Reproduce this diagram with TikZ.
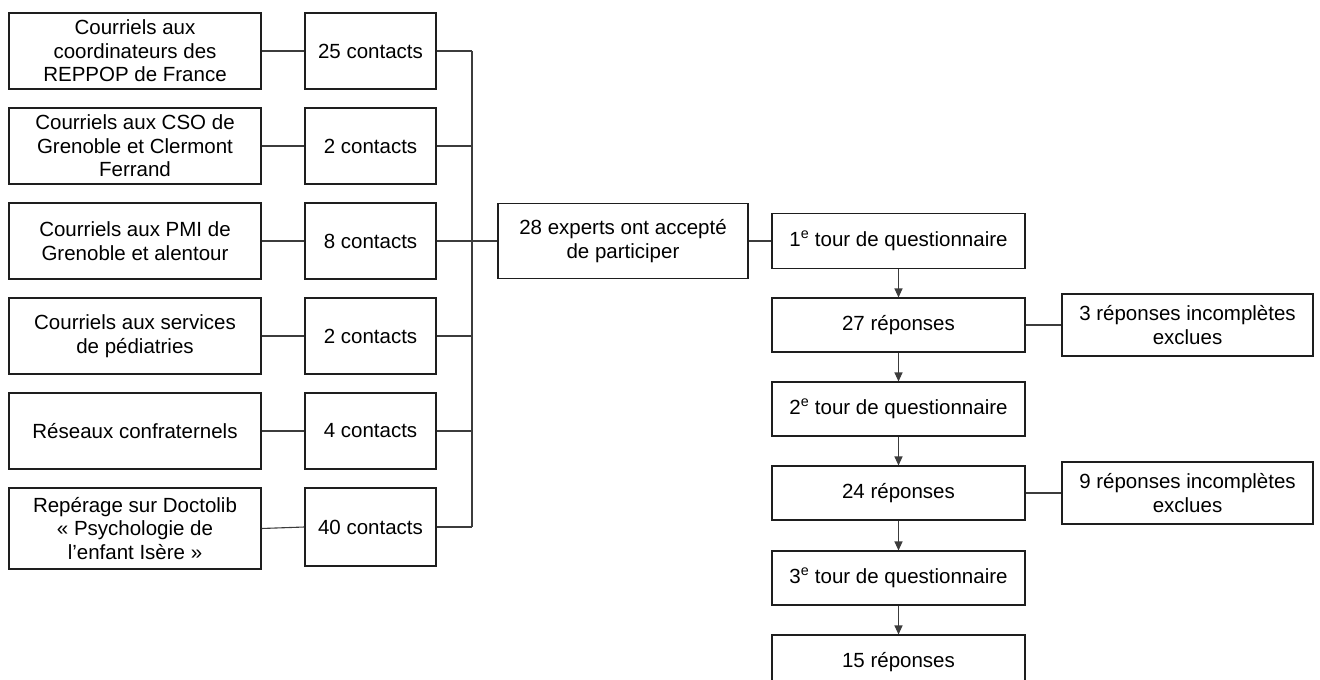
\documentclass[tikz,border=0pt]{standalone}
\usepackage{fontspec}
\setmainfont{Liberation Sans}
\usetikzlibrary{arrows.meta}
\definecolor{boxcol}{RGB}{30,30,30}
\definecolor{linecol}{RGB}{60,60,60}
\begin{document}
\begin{tikzpicture}[x=1pt,y=-1pt,
  box/.style={draw=boxcol,line width=1.1pt,align=center,inner sep=0pt,
    font=\fontsize{20.5}{23.5}\selectfont,text=black},
  lbox/.style={box,minimum width=252pt,minimum height=76pt},
  cbox/.style={box,minimum width=131pt,minimum height=76pt},
  rbox/.style={box,minimum width=253pt,minimum height=54pt},
  sbox/.style={box,minimum width=251pt,minimum height=62pt},
  conn/.style={draw=linecol,line width=1.1pt},
  arr/.style={conn,-{Triangle[length=9pt,width=8pt]}}]
\clip (0,0) rectangle (1320,680);
\fill[white] (0,0) rectangle (1320,680);
% left column
\node[lbox] (L1) at (135,51) {Courriels aux\\coordinateurs des\\REPPOP de France};
\node[lbox] (L2) at (135,146) {Courriels aux CSO de\\Grenoble et Clermont\\Ferrand};
\node[lbox] (L3) at (135,241) {Courriels aux PMI de\\Grenoble et alentour};
\node[lbox] (L4) at (135,336) {Courriels aux services\\de pédiatries};
\node[lbox] (L5) at (135,431) {Réseaux confraternels};
\node[lbox,minimum height=81pt] (L6) at (135,528.5) {Repérage sur Doctolib\\« Psychologie de\\l’enfant Isère »};
% contacts
\node[cbox] (C1) at (370.5,51) {25 contacts};
\node[cbox] (C2) at (370.5,146) {2 contacts};
\node[cbox] (C3) at (370.5,241) {8 contacts};
\node[cbox] (C4) at (370.5,336) {2 contacts};
\node[cbox] (C5) at (370.5,431) {4 contacts};
\node[cbox,minimum height=78pt] (C6) at (370.5,527) {40 contacts};
\coordinate (bus) at (472,0);
% center
\node[box,minimum width=250pt,minimum height=75pt] (M) at (623,241) {28 experts ont accepté\\de participer};
% right column
\node[rbox,minimum height=55pt] (R1) at (898.5,241) {1\textsuperscript{e} tour de questionnaire};
\node[rbox] (R2) at (898.5,325) {27 réponses};
\node[rbox] (R3) at (898.5,409) {2\textsuperscript{e} tour de questionnaire};
\node[rbox] (R4) at (898.5,493) {24 réponses};
\node[rbox] (R5) at (898.5,578) {3\textsuperscript{e} tour de questionnaire};
\node[rbox] (R6) at (898.5,662) {15 réponses};
% side
\node[sbox] (S1) at (1187.5,325) {3 réponses incomplètes\\exclues};
\node[sbox] (S2) at (1187.5,493) {9 réponses incomplètes\\exclues};
% connectors
\foreach \i in {1,...,6}{
  \draw[conn] (L\i.east) -- (C\i.west);
  \draw[conn] (C\i.east) -- (C\i.east -| bus);
}
\draw[conn] (C1.east -| bus) -- (C6.east -| bus);
\draw[conn] (bus |- M.west) -- (M.west);
\draw[conn] (M.east) -- (R1.west);
\draw[arr] (R1.south) -- (R2.north);
\draw[arr] (R2.south) -- (R3.north);
\draw[arr] (R3.south) -- (R4.north);
\draw[arr] (R4.south) -- (R5.north);
\draw[arr] (R5.south) -- (R6.north);
\draw[conn] (R2.east) -- (S1.west);
\draw[conn] (R4.east) -- (S2.west);
\end{tikzpicture}
\end{document}
